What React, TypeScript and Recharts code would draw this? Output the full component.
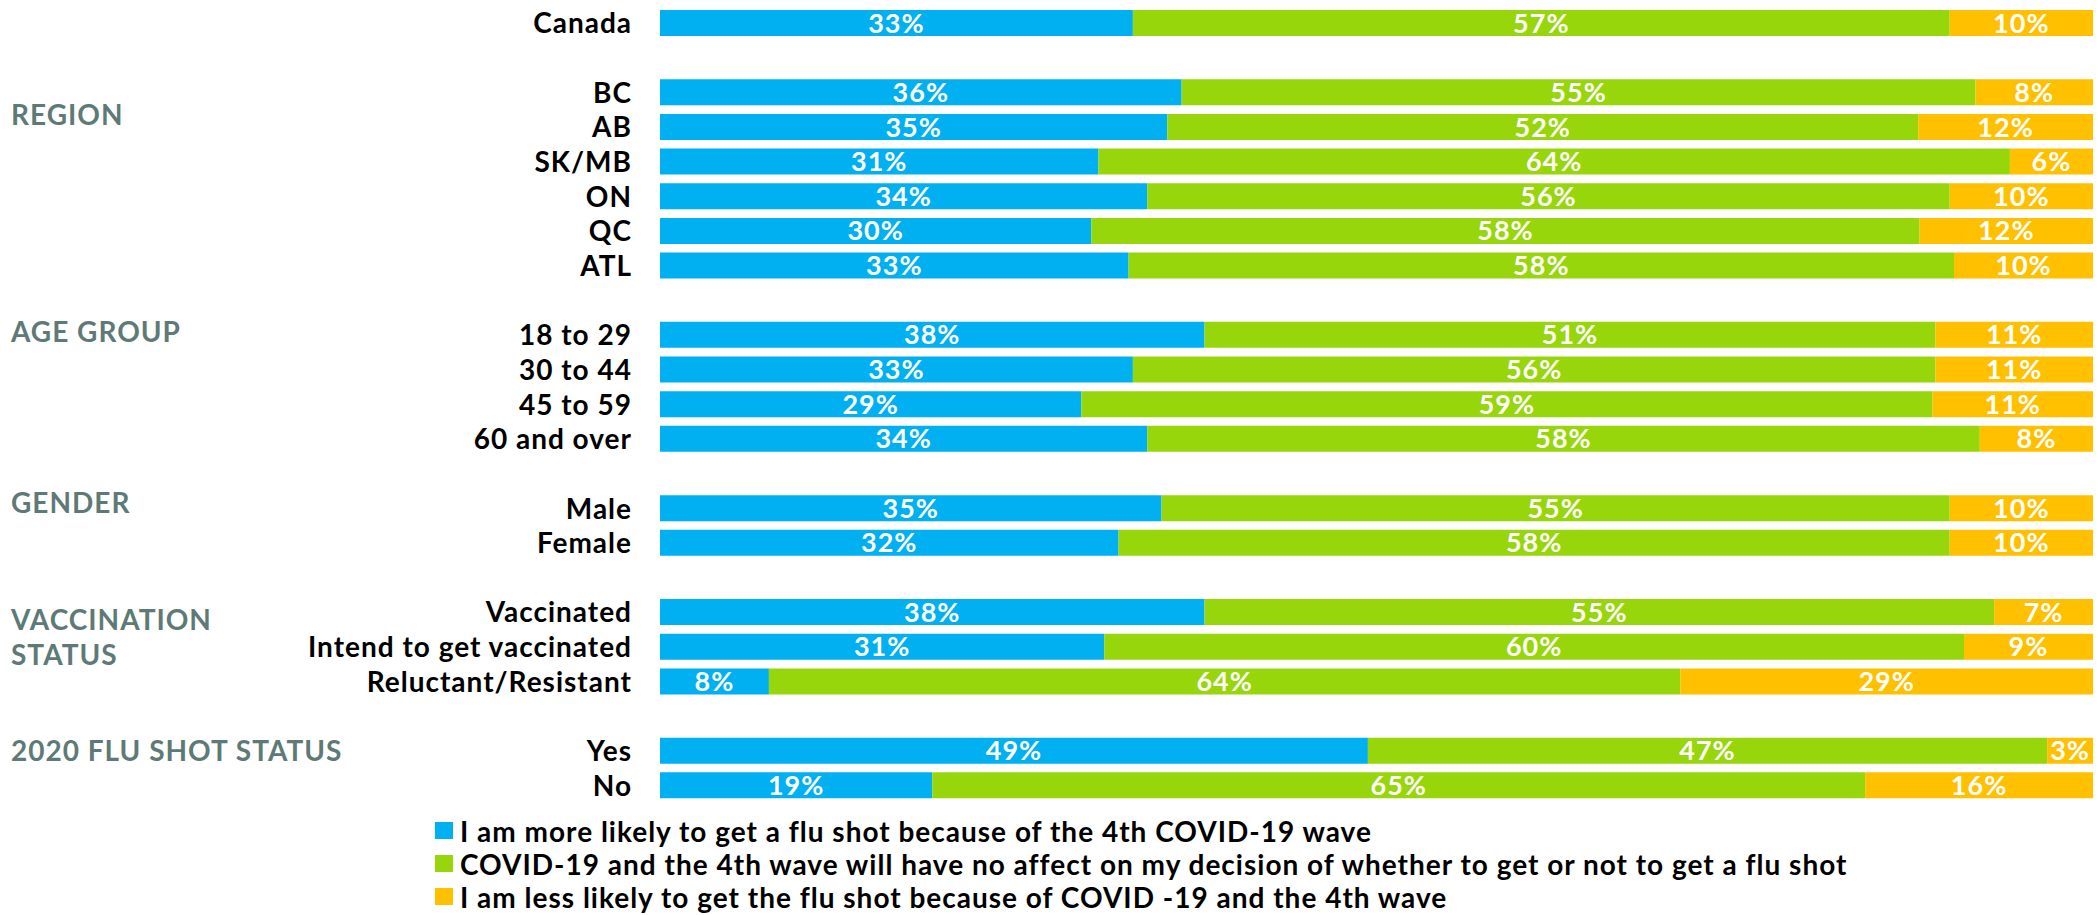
import React from 'react';
import { BarChart, Bar, XAxis, YAxis, LabelList } from 'recharts';

// rows, top to bottom ('' = spacer row between groups)
const categories = [
  'Canada', '',
  'BC', 'AB', 'SK/MB', 'ON', 'QC', 'ATL', '',
  '18 to 29', '30 to 44', '45 to 59', '60 and over', '',
  'Male', 'Female', '',
  'Vaccinated', 'Intend to get vaccinated', 'Reluctant/Resistant', '',
  'Yes', 'No',
];

const moreLikely = [33.0, null, 36.4, 35.4, 30.6, 34.0, 30.1, 32.7, null, 38.0, 33.0, 29.4, 34.0, null, 35.0, 32.0, null, 38.0, 31.0, 7.6, null, 49.4, 19.0];
const noEffect = [57.0, null, 55.4, 52.4, 63.6, 56.0, 57.8, 57.6, null, 51.0, 56.0, 59.4, 58.1, null, 55.0, 58.0, null, 55.1, 60.0, 63.6, null, 47.4, 65.1];
const lessLikely = [10.0, null, 8.2, 12.2, 5.8, 10.0, 12.1, 9.7, null, 11.0, 11.0, 11.2, 7.9, null, 10.0, 10.0, null, 6.9, 9.0, 28.8, null, 3.2, 15.9];

const seriesNames = [
  'I am more likely to get a flu shot because of the 4th COVID-19 wave',
  'COVID-19 and the 4th wave will have no affect on my decision of whether to get or not to get a flu shot',
  'I am less likely to get the flu shot because of COVID -19 and the 4th wave',
];

const groupFirstRow = ['BC', '18 to 29', 'Male', 'Vaccinated', 'Yes'];
const groupLines = [['REGION'], ['AGE GROUP'], ['GENDER'], ['VACCINATION', 'STATUS'], ['2020 FLU SHOT STATUS']];

const GROUP_DY = [22, -3, -6, 8, 0];
const COLORS = ['#00b0f0', '#97d60a', '#ffc000'];
const FONT = 'Lato, "Open Sans", sans-serif';

const data = categories.map((name, i) => ({
  name,
  more: moreLikely[i],
  none: noEffect[i],
  less: lessLikely[i],
}));

const pct = (v: any) => (v == null ? '' : `${Math.round(v)}%`);

const RowTick = (props: any) => {
  const { x, y, payload } = props;
  const g = groupFirstRow.indexOf(payload.value);
  return (
    <g>
      <text x={x} y={y} dy="0.36em" textAnchor="end" fontFamily={FONT} fontWeight={700} fontSize={28}
        letterSpacing={1} fill="#000">
        {payload.value}
      </text>
      {g >= 0 &&
        groupLines[g].map((line, j) => (
          <text key={j} x={11} y={y + GROUP_DY[g] + j * 35} dy="0.36em" textAnchor="start"
            fontFamily={FONT} fontWeight={700} fontSize={28} letterSpacing={1} fill="#5e7a77">
            {line}
          </text>
        ))}
    </g>
  );
};

const LegendBox = () => (
  <div style={{ position: 'absolute', left: 435, top: 814, fontFamily: FONT, fontWeight: 700, fontSize: 28, letterSpacing: 1, color: '#000' }}>
    {seriesNames.map((s, i) => (
      <div key={i} style={{ display: 'flex', alignItems: 'center', height: 33 }}>
        <span style={{ display: 'inline-block', width: 18, height: 17, background: COLORS[i], marginRight: 7 }} />
        <span style={{ whiteSpace: 'nowrap', lineHeight: '26px' }}>{s}</span>
      </div>
    ))}
  </div>
);

export default function App() {
  const keys = ['more', 'none', 'less'];
  return (
    <div style={{ position: 'absolute', left: 0, top: 0, width: 2098, height: 915, overflow: 'hidden' }}>
      <BarChart
        width={2098}
        height={915}
        data={data}
        layout="vertical"
        margin={{ top: 6, right: 5, bottom: 112, left: 0 }}
      >
        <XAxis type="number" domain={[0, 100]} hide />
        <YAxis
          type="category"
          dataKey="name"
          width={660}
          axisLine={false}
          tickLine={false}
          tickSize={0}
          tickMargin={28}
          interval={0}
          tick={<RowTick />}
        />
        {keys.map((k, i) => (
          <Bar key={k} dataKey={k} name={seriesNames[i]} stackId="a" fill={COLORS[i]} barSize={26} isAnimationActive={false}>
            <LabelList dataKey={k} position="center" formatter={pct} fill="#fff" fontFamily={FONT} fontWeight={700}
              fontSize={27} letterSpacing={1} />
          </Bar>
        ))}
      </BarChart>
      <LegendBox />
    </div>
  );
}
